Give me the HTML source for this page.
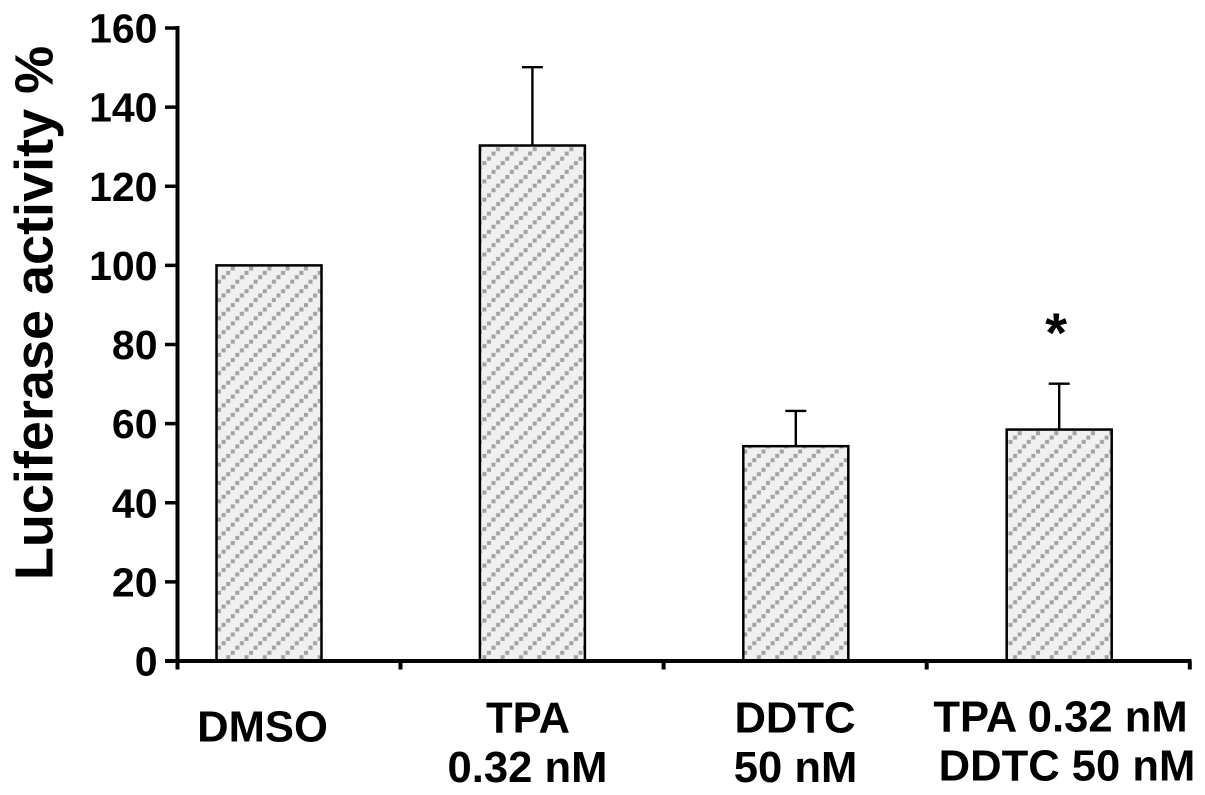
<!DOCTYPE html>
<html>
<head>
<meta charset="utf-8">
<style>
html,body{margin:0;padding:0;background:#fff;width:1205px;height:795px;overflow:hidden}
svg{display:block}
text{font-family:"Liberation Sans",Arial,sans-serif;font-weight:bold;fill:#000}
</style>
</head>
<body>
<svg id="chart" xmlns="http://www.w3.org/2000/svg" width="1205" height="795" viewBox="0 0 1205 795">
<defs>
<pattern id="hatch" patternUnits="userSpaceOnUse" width="18.3" height="18.3" x="215" y="264">
<rect width="18.3" height="18.3" fill="#f0f0f0"/>
<g fill="#a2a2a2">
<rect x="2" y="15.7" width="4" height="4"/>
<rect x="2" y="-2.6" width="4" height="4"/>
<rect x="6.6" y="11.2" width="4" height="4"/>
<rect x="11.2" y="6.9" width="4" height="4"/>
<rect x="15.8" y="2.5" width="4" height="4"/>
<rect x="-2.5" y="2.5" width="4" height="4"/>
</g>
</pattern>
</defs>
</svg>
<script>
var categoryLines = [["DMSO"], ["TPA", "0.32 nM"], ["DDTC", "50 nM"], ["TPA 0.32 nM", "DDTC 50 nM"]];
var barValues = [100, 130.3, 54.3, 58.5];
var errorValues = [0, 19.8, 8.9, 11.6];
var yTickLabels = [0, 20, 40, 60, 80, 100, 120, 140, 160];
var significanceMarks = ["", "", "", "*"];

var svg = document.getElementById('chart');
var NS = 'http://www.w3.org/2000/svg';
var plotLeft = 177.5, plotRight = 1190, plotBottom = 661, plotTop = 28, yMax = 160;

function yScale(v) { return plotBottom - (v / yMax) * (plotBottom - plotTop); }
function bandCenter(i) { return 269 + i * 263.4; }
function make(tag, attrs) {
  var el = document.createElementNS(NS, tag);
  for (var k in attrs) el.setAttribute(k, attrs[k]);
  return el;
}

// bars and error bars
barValues.forEach(function (v, i) {
  var cx = bandCenter(i);
  var top = yScale(v);
  var bar = make('rect', { x: cx - 52.5, y: top, width: 105, height: plotBottom - top, fill: 'url(#hatch)', stroke: '#000', 'stroke-width': 2.5 });
  
  
  svg.appendChild(bar);
  if (errorValues[i] > 0) {
    var errTop = yScale(v + errorValues[i]);
    var stem = make('line', { x1: cx, x2: cx, y1: top, y2: errTop, stroke: '#000', 'stroke-width': 2.4 });
    
    
    svg.appendChild(stem);
    var cap = make('line', { x1: cx - 10.5, x2: cx + 10.5, y1: errTop, y2: errTop, stroke: '#000', 'stroke-width': 2.4 });
    
    
    svg.appendChild(cap);
  }
  if (significanceMarks[i]) {
    var star = make('text', { x: cx - 3, y: 352, 'text-anchor': 'middle', 'font-size': 56 });
    
    
    star.textContent = significanceMarks[i];
    svg.appendChild(star);
  }
});

// y axis
var yAxis = make('line', { x1: plotLeft, x2: plotLeft, y1: plotTop - 2, y2: plotBottom + 8.5, stroke: '#000', 'stroke-width': 4 });


svg.appendChild(yAxis);

yTickLabels.forEach(function (t) {
  var y = yScale(t);
  var tick = make('line', { x1: 165, x2: plotLeft, y1: y, y2: y, stroke: '#000', 'stroke-width': 3.5 });
  
  
  svg.appendChild(tick);
  var label = make('text', { x: 157.5, y: y + 14.5, 'text-anchor': 'end', 'font-size': 41 });
  
  
  label.textContent = t;
  svg.appendChild(label);
});

// x axis
var xAxis = make('line', { x1: 165, x2: plotRight + 1.5, y1: plotBottom, y2: plotBottom, stroke: '#000', 'stroke-width': 4 });


svg.appendChild(xAxis);

categoryLines.forEach(function (lines, i) {
  var tx = 400.5 + i * 263.1;
  var tick = make('line', { x1: tx, x2: tx, y1: plotBottom, y2: plotBottom + 8.5, stroke: '#000', 'stroke-width': 4 });
  
  
  svg.appendChild(tick);
});

var labelCenters = [[262.5], [528, 527.5], [795, 795.5], [1060.5, 1067]];
var labelBaselines = [[741.5], [732.5, 782], [732.5, 782], [731.5, 780.5]];
categoryLines.forEach(function (lines, i) {
  lines.forEach(function (line, j) {
    var label = make('text', { x: labelCenters[i][j], y: labelBaselines[i][j], 'text-anchor': 'middle', 'font-size': 43.6 });
    
    
    label.textContent = line;
    svg.appendChild(label);
  });
});

// y axis title
var title = make('text', { transform: 'translate(52.5,313) rotate(-90)', 'text-anchor': 'middle', 'font-size': 54 });


title.textContent = 'Luciferase activity %';
svg.appendChild(title);
</script>
</body>
</html>
